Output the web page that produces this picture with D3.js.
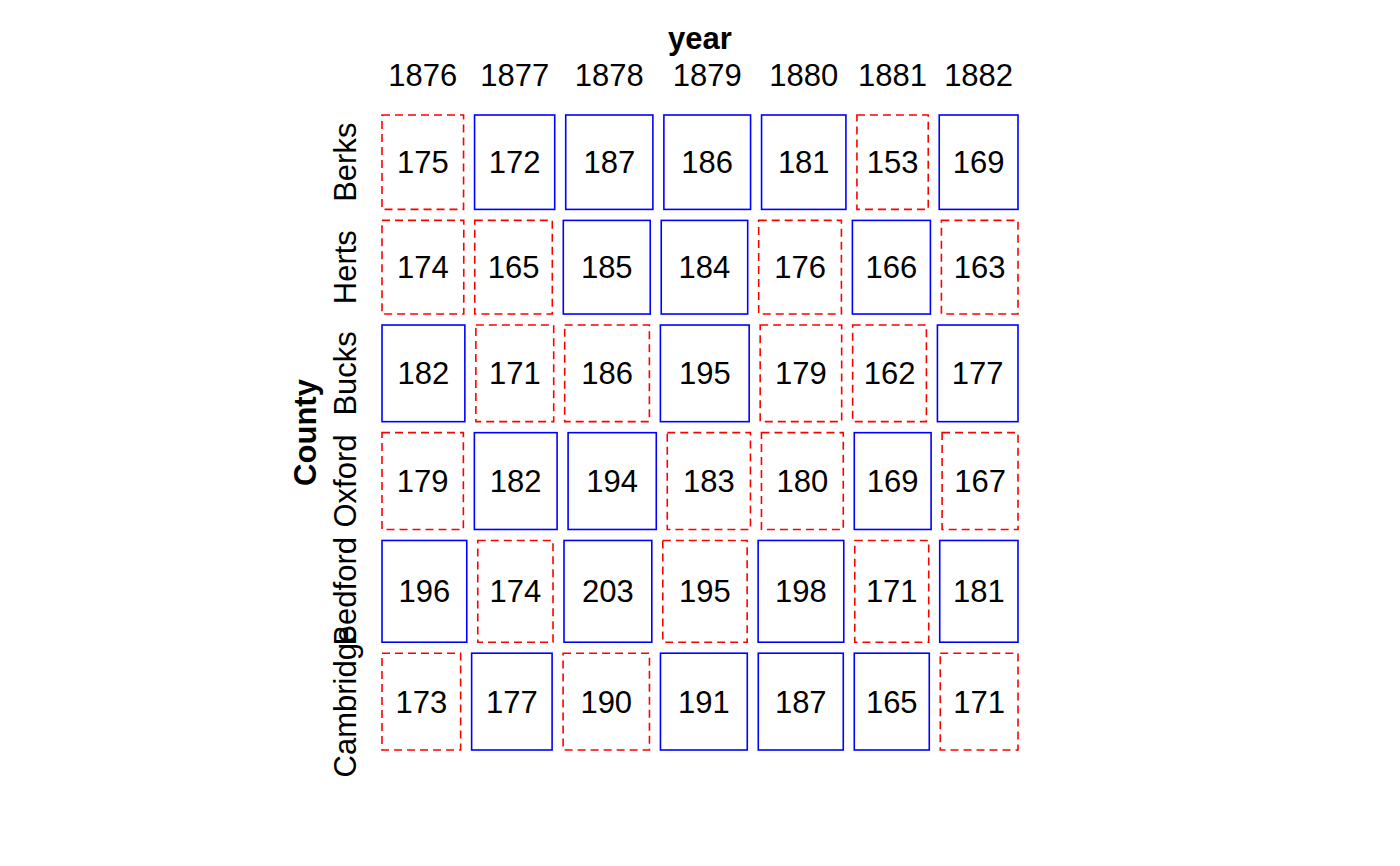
<!DOCTYPE html>
<html>
<head>
<meta charset="utf-8">
<script src="https://cdn.jsdelivr.net/npm/d3@7"></script>
<style>
  html, body { margin: 0; padding: 0; background: #fff; }
  text { font-family: "Liberation Sans", Arial, Helvetica, sans-serif; }
</style>
</head>
<body>
<svg id="chart" width="1400" height="866"></svg>
<script>
// ---- data ----
const years = ["1876", "1877", "1878", "1879", "1880", "1881", "1882"];
const counties = ["Berks", "Herts", "Bucks", "Oxford", "Bedford", "Cambridge"];
const berks     = [175, 172, 187, 186, 181, 153, 169];
const herts     = [174, 165, 185, 184, 176, 166, 163];
const bucks     = [182, 171, 186, 195, 179, 162, 177];
const oxford    = [179, 182, 194, 183, 180, 169, 167];
const bedford   = [196, 174, 203, 195, 198, 171, 181];
const cambridge = [173, 177, 190, 191, 187, 165, 171];
const rowVarName = "County";
const colVarName = "year";

const table = [berks, herts, bucks, oxford, bedford, cambridge];

// ---- layout ----
const svg = d3.select("#chart");
const X0 = 382, X1 = 1018, Y0 = 115, Y1 = 750;
const gap = 11;
const fontSize = 31;

const rowSums = table.map(r => d3.sum(r));
const colSums = years.map((_, j) => d3.sum(table, r => r[j]));
const total = d3.sum(rowSums);

// vertical split by county
const availH = (Y1 - Y0) - gap * (counties.length - 1);
const yScale = d3.scaleLinear().domain([0, total]).range([0, availH]);
const cumRows = d3.cumsum([0, ...rowSums]);
const rowTop = counties.map((_, i) => Y0 + yScale(cumRows[i]) + gap * i);
const rowH = rowSums.map(s => yScale(s));

const cells = [];
table.forEach((row, i) => {
  const availW = (X1 - X0) - gap * (years.length - 1);
  const xScale = d3.scaleLinear().domain([0, rowSums[i]]).range([0, availW]);
  const cum = d3.cumsum([0, ...row]);
  row.forEach((v, j) => {
    const expected = rowSums[i] * colSums[j] / total;
    cells.push({
      i, j, v,
      x: X0 + xScale(cum[j]) + gap * j,
      w: xScale(v),
      y: rowTop[i],
      h: rowH[i],
      pos: v - expected >= 0
    });
  });
});

const g = svg.append("g");
g.selectAll("rect.tile").data(cells).enter().append("rect")
  .attr("class", "tile")
  .attr("x", d => d.x).attr("y", d => d.y)
  .attr("width", d => d.w).attr("height", d => d.h)
  .attr("fill", "none")
  .attr("stroke", d => d.pos ? "#0000ff" : "#ff0000")
  .attr("stroke-width", 1.6)
  .attr("stroke-dasharray", d => d.pos ? null : "8,5");

g.selectAll("text.val").data(cells).enter().append("text")
  .attr("class", "val")
  .attr("x", d => d.x + d.w / 2)
  .attr("y", d => d.y + d.h / 2 + fontSize * 0.358)
  .attr("text-anchor", "middle")
  .attr("font-size", fontSize)
  .attr("fill", "#000")
  .text(d => d.v);

// top labels: centered on first row tiles
const topCells = cells.filter(d => d.i === 0);
svg.selectAll("text.collab").data(topCells).enter().append("text")
  .attr("class", "collab")
  .attr("x", d => d.x + d.w / 2)
  .attr("y", 86)
  .attr("text-anchor", "middle")
  .attr("font-size", fontSize)
  .text(d => years[d.j]);

svg.append("text")
  .attr("x", (X0 + X1) / 2).attr("y", 49)
  .attr("text-anchor", "middle")
  .attr("font-size", fontSize).attr("font-weight", "bold")
  .text(colVarName);

// left labels
counties.forEach((c, i) => {
  const cy = rowTop[i] + rowH[i] / 2;
  svg.append("text")
    .attr("transform", `translate(356,${cy}) rotate(-90)`)
    .attr("text-anchor", "middle")
    .attr("font-size", fontSize)
    .text(c);
});

svg.append("text")
  .attr("transform", `translate(316,${(Y0 + Y1) / 2}) rotate(-90)`)
  .attr("text-anchor", "middle")
  .attr("font-size", fontSize).attr("font-weight", "bold")
  .text(rowVarName);
</script>
</body>
</html>
